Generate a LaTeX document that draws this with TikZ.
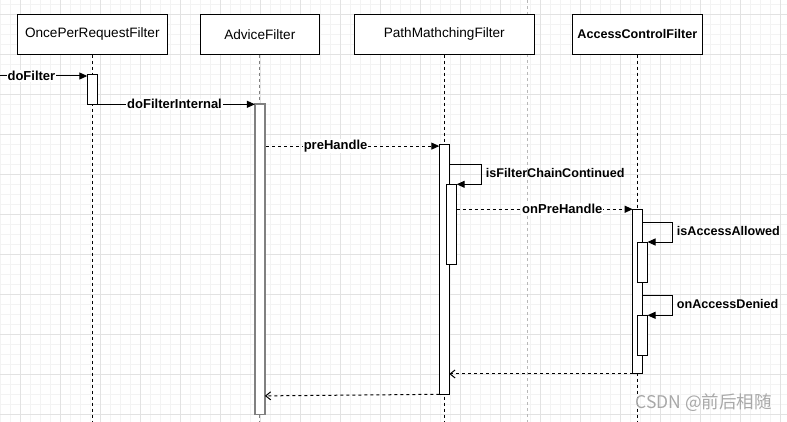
\documentclass[tikz,border=0pt]{standalone}
\usepackage{fontspec}
\setmainfont{Liberation Sans}
\newfontfamily\cjkfont{Noto Sans CJK SC}
\usetikzlibrary{arrows.meta,calc}
\definecolor{gridminor}{HTML}{F3F3F3}
\definecolor{gridmajor}{HTML}{E2E2E2}
\definecolor{advgray}{HTML}{808080}
\definecolor{wmgray}{HTML}{A8A8A8}
\definecolor{pagebreak}{HTML}{B8B8B8}
\tikzset{
  lane/.style={draw, line width=1pt, fill=white, minimum height=40pt, inner sep=0pt, font=\fontsize{13.6}{15}\selectfont},
  act/.style={draw, line width=1pt, fill=white, minimum width=10pt, inner sep=0pt, outer sep=0pt},
  lifeline/.style={line width=1pt, dash pattern=on 3pt off 3pt},
  callarrow/.style={line width=1pt, -{Triangle[length=8pt,width=7pt]}},
  dcallarrow/.style={callarrow, dash pattern=on 3pt off 3pt},
  retarrow/.style={line width=1pt, dash pattern=on 3pt off 3pt, -{Straight Barb[length=5pt,width=8pt]}},
  msglabel/.style={fill=white, inner sep=1pt, font=\bfseries\fontsize{13}{15}\selectfont},
  selflabel/.style={anchor=west, inner sep=0pt, font=\bfseries\fontsize{12.6}{15}\selectfont},
}
\begin{document}
\begin{tikzpicture}[x=1pt,y=-1pt]
\useasboundingbox (0,0) rectangle (787,422);
\fill[white] (0,0) rectangle (787,422);
% grid
\foreach \x in {0.5,10.5,...,786} \draw[gridminor, line width=0.8pt] (\x,0) -- (\x,422);
\foreach \y in {4.3,14.3,...,421} \draw[gridminor, line width=0.8pt] (0,\y) -- (787,\y);
\foreach \x in {20.5,60.5,...,786} \draw[gridmajor, line width=0.8pt] (\x,0) -- (\x,422);
\foreach \y in {14.3,54.3,...,421} \draw[gridmajor, line width=0.8pt] (0,\y) -- (787,\y);
\draw[pagebreak, line width=0.8pt, dash pattern=on 3pt off 3pt] (527.6,0) -- (527.6,422);

\coordinate (bottom) at (0,422);
% lifeline boxes
\node[lane, minimum width=150pt] (b1) at (92.3,34.2) {OncePerRequestFilter};
\node[lane, minimum width=119pt] (b2) at (259.8,34.2) {AdviceFilter};
\node[lane, minimum width=180pt] (b3) at (444.3,34.2) {PathMathchingFilter};
\node[lane, minimum width=130pt, font=\bfseries\fontsize{12.6}{15}\selectfont] (b4) at (637.3,34.2) {AccessControlFilter};

% lifelines
\draw[lifeline] (b1.south) -- (b1.south |- bottom);
\draw[lifeline, advgray] (b2.south) -- (b2.south |- bottom);
\draw[lifeline] (b3.south) -- (b3.south |- bottom);
\draw[lifeline] (b4.south) -- (b4.south |- bottom);

% activations
\node[act, minimum height=29.6pt] (a1) at (92.3,89.5) {};
\node[act, draw=advgray, line width=1.6pt, minimum height=310pt] (a2) at (259.9,259.3) {};
\node[act, minimum height=250pt] (a3) at (444.3,269.3) {};
\node[act, minimum height=80pt] (a4) at (451.7,224.3) {};
\node[act, minimum height=164.7pt] (a5) at (637.7,291.6) {};
\node[act, minimum height=40pt] (a6) at (642.5,262) {};
\node[act, minimum height=40pt] (a7) at (642.5,335.3) {};

% doFilter
\coordinate (start) at (0,76);
\draw[callarrow] (start) -- (start -| a1.west)
  node[msglabel, pos=0.36] {doFilter};
% doFilterInternal
\draw[callarrow] (a1.south east) -- (a2.north west)
  node[msglabel, pos=0.49] {doFilterInternal};
% preHandle
\coordinate (p1) at ($(a3.north west)+(0,1.8)$);
\draw[dcallarrow] ($(a2.east |- p1)+(1.5,0)$) -- (p1)
  node[msglabel, pos=0.4] {preHandle};
% isFilterChainContinued
\coordinate (c1) at (481,165);
\draw[callarrow] (a3.east |- c1) -- (c1) |- (a4.north east);
\node[selflabel] (l1) at (485.7,173) {isFilterChainContinued};
% onPreHandle
\draw[dcallarrow] (a4.east |- a5.north) -- (a5.north west)
  node[msglabel, pos=0.6] {onPreHandle};
% isAccessAllowed
\coordinate (c2) at (672.3,222.3);
\draw[callarrow] (a5.east |- c2) -- (c2) |- (a6.north east);
\node[selflabel] (l2) at (676.7,230.5) {isAccessAllowed};
% onAccessDenied
\coordinate (c3) at (672.3,295.3);
\draw[callarrow] (a5.east |- c3) -- (c3) |- (a7.north east);
\node[selflabel] (l3) at (676.7,303.7) {onAccessDenied};
% returns
\draw[retarrow] (a5.south west) -- (a5.south west -| a3.east);
\draw[retarrow] (a3.south west) -- ($(a3.south west -| a2.east)+(0,1.6)$);

% watermark
\node[wmgray, inner sep=0pt, font=\cjkfont\fontsize{17.5}{19}\selectfont] (wm) at (703.5,402.3) {CSDN @前后相随};
\end{tikzpicture}
\end{document}
